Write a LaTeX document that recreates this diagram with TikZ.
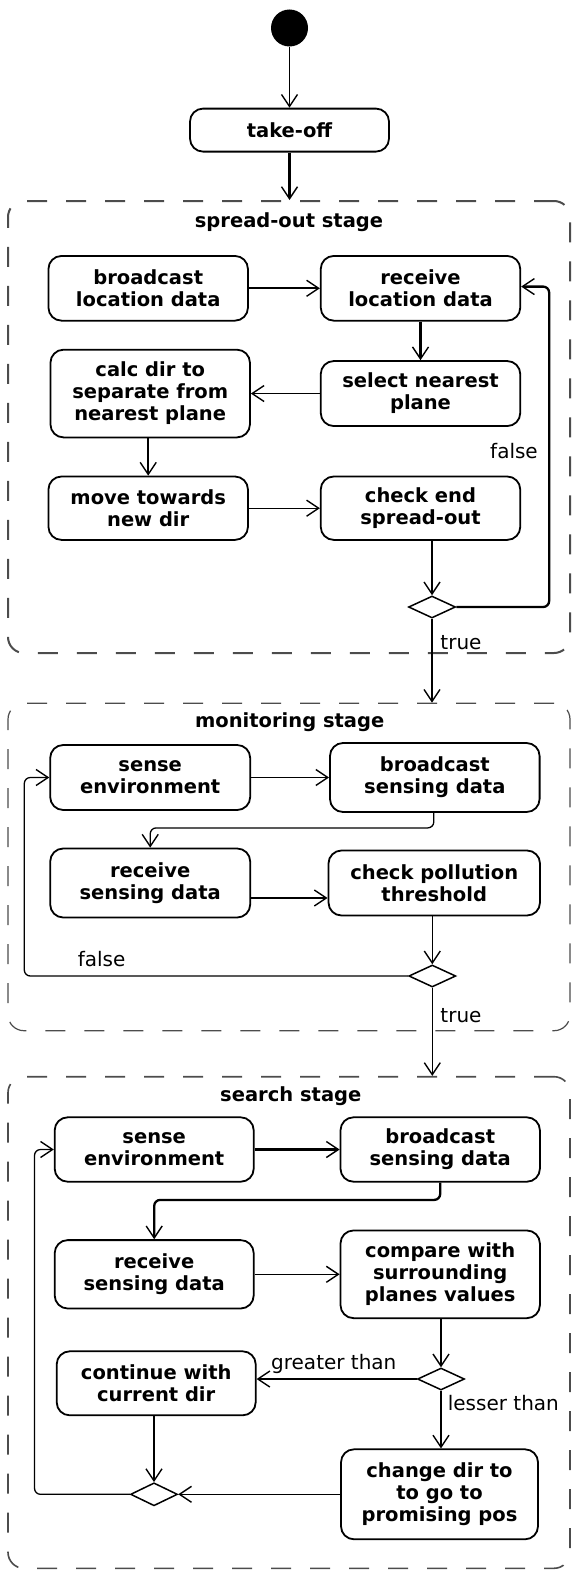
\documentclass[tikz,border=0pt]{standalone}
\usepackage{fontspec}
\setmainfont{DejaVu Sans}
\usetikzlibrary{arrows.meta}
\usetikzlibrary{shapes.geometric}
\usetikzlibrary{positioning}
\newcommand\actfont{\fontsize{19.5}{22}\selectfont\bfseries}

\begin{document}
\begin{tikzpicture}[x=1pt, y=-1pt,
-,>={Straight Barb[length=12pt, width=16pt, line width=1.4pt 0]},
actnode/.style = {rectangle, rounded corners=13pt, draw=black, line width=1.8pt, align=center, minimum width=199pt, minimum height=64pt, inner sep=0pt, font=\actfont},
stage/.style = {rectangle, rounded corners=16pt, draw=black!70, line width=1.6pt, dash pattern=on 20pt off 19pt, minimum width=562pt},
stagetitle/.style = {font=\actfont},
decision/.style = {diamond, draw=black, line width=1.5pt, minimum width=47pt, minimum height=22pt, inner sep=0pt},
guard/.style = {font=\fontsize{20}{22}\selectfont},
flow/.style = {->, line width=1.3pt},
mainflow/.style = {->, line width=2.3pt}
]
\useasboundingbox (0,0) rectangle (572,1571);

\node (start) [circle, fill=black, minimum size=37pt, inner sep=0pt] at (289.5,28) {};
\node (takeoff) [actnode, minimum height=43pt, below=61pt of start] {take-off};

% spread-out stage
\node (spread) [stage, line width=2pt, minimum height=452pt] at (289,427) {};
\node (spreadtitle) [stagetitle] at (289,222) {spread-out stage};
\node (bld) [actnode, minimum width=199.5pt, minimum height=64.7pt] at (148.2,288.3) {broadcast\\location data};
\node (rld) [actnode, minimum width=199.5pt, minimum height=64.7pt, right=71pt of bld] {receive\\location data};
\node (snp) [actnode, minimum width=199.5pt, minimum height=65pt, below=38.6pt of rld] {select nearest\\plane};
\node (cdir) [actnode, minimum width=199.5pt, minimum height=87.7pt, left=69pt of snp] {calc dir to\\separate from\\nearest plane};
\node (mtd) [actnode, minimum width=199.5pt, minimum height=63.4pt, below=37.3pt of cdir, xshift=-2pt] {move towards\\new dir};
\node (ces) [actnode, minimum width=199.5pt, minimum height=63.4pt, right=71pt of mtd] {check end\\spread-out};
\node (dec1) [decision] at (432,607) {};
\node (false1) [guard] at (514,451.5) {false};
\node (true1) [guard] at (461,643) {true};

% monitoring stage
\node (mon) [stage, line width=1.2pt, minimum height=327.4pt] at (289,867) {};
\node (montitle) [stagetitle] at (289.7,722) {monitoring stage};
\node (sen1) [actnode, minimum width=200pt, minimum height=65pt] at (150.2,777.5) {sense\\environment};
\node (bsd1) [actnode, minimum width=209.6pt, minimum height=69pt, right=78pt of sen1] {broadcast\\sensing data};
\node (rsd1) [actnode, minimum width=200pt, minimum height=69pt, below=36.7pt of sen1] {receive\\sensing data};
\node (cpt) [actnode, minimum width=211.5pt, minimum height=65pt, right=76.5pt of rsd1] {check pollution\\threshold};
\node (dec2) [decision] at (432.3,976) {};
\node (false2) [guard] at (101.6,959) {false};
\node (true2) [guard] at (461,1016) {true};

% search stage
\node (search) [stage, minimum height=491.6pt] at (289,1322.5) {};
\node (searchtitle) [stagetitle] at (290.8,1095.7) {search stage};
\node (sen2) [actnode, minimum height=64.4pt] at (154.2,1149.5) {sense\\environment};
\node (bsd2) [actnode, minimum width=199.4pt, minimum height=64.4pt, right=85pt of sen2] {broadcast\\sensing data};
\node (rsd2) [actnode, minimum height=68.4pt, below=56.6pt of sen2] {receive\\sensing data};
\node (cmp) [actnode, minimum width=199.4pt, minimum height=87.7pt, right=85pt of rsd2] {compare with\\surrounding\\planes values};
\node (dec3) [decision] at (441,1379) {};
\node (cwd) [actnode, below=41pt of rsd2, xshift=2pt] {continue with\\current dir};
\node (cdg) [actnode, minimum width=197pt, minimum height=90pt] at (439.5,1494.3) {change dir to\\to go to\\promising pos};
\node (dec4) [decision, minimum height=23pt] at (154,1494.3) {};
\node (greater) [guard] at (333.8,1364) {greater than};
\node (lesser) [guard] at (503.4,1403) {lesser than};

\draw[flow] (start) -- (takeoff);
\draw[mainflow] (takeoff.south) -- (takeoff.south |- spread.north);

\draw[mainflow] (bld) -- (rld);
\draw[mainflow] (rld) -- (snp);
\draw[flow] (snp) -- (cdir);
\draw[mainflow] ([xshift=-2pt]cdir.south) -- (mtd);
\draw[flow] (mtd) -- (ces);
\draw[flow] (ces.south -| dec1.north) -- (dec1.north);
\draw[mainflow, rounded corners=6pt] (dec1.east) -| ([xshift=28pt, yshift=1.7pt]rld.east) -- ([yshift=1.7pt]rld.east);
\draw[flow] (dec1.south) -- (dec1.south |- mon.north);

\draw[flow] (sen1) -- (sen1 -| bsd1.west);
\draw[flow, rounded corners=6pt] ([xshift=-1pt]bsd1.south) -- ++(0,15) -| (rsd1.north);
\draw[mainflow] ([yshift=-15pt]rsd1.east) -- ([yshift=-15pt]rsd1.east -| cpt.west);
\draw[flow] (cpt.south -| dec2.north) -- (dec2.north);
\draw[flow, rounded corners=6pt] (dec2.west) -| ([xshift=-25pt]sen1.west) -- (sen1.west);
\draw[flow] (dec2.south) -- (dec2.south |- search.north);

\draw[mainflow] (sen2) -- (bsd2);
\draw[mainflow, rounded corners=6pt] (bsd2.south) -- ++(0,17.3) -| (rsd2.north);
\draw[flow] (rsd2) -- (cmp);
\draw[flow] (cmp.south -| dec3.north) -- (dec3.north);
\draw[mainflow] (dec3.west) -- (dec3.west -| cwd.east);
\draw[flow] (dec3.south) -- (dec3.south |- cdg.north);
\draw[flow] (cwd.south -| dec4.north) -- (dec4.north);
\draw[flow] (cdg.west |- dec4.east) -- (dec4.east);
\draw[flow, rounded corners=6pt] (dec4.west) -| ([xshift=-19.3pt]sen2.west) -- (sen2.west);
\end{tikzpicture}
\end{document}
